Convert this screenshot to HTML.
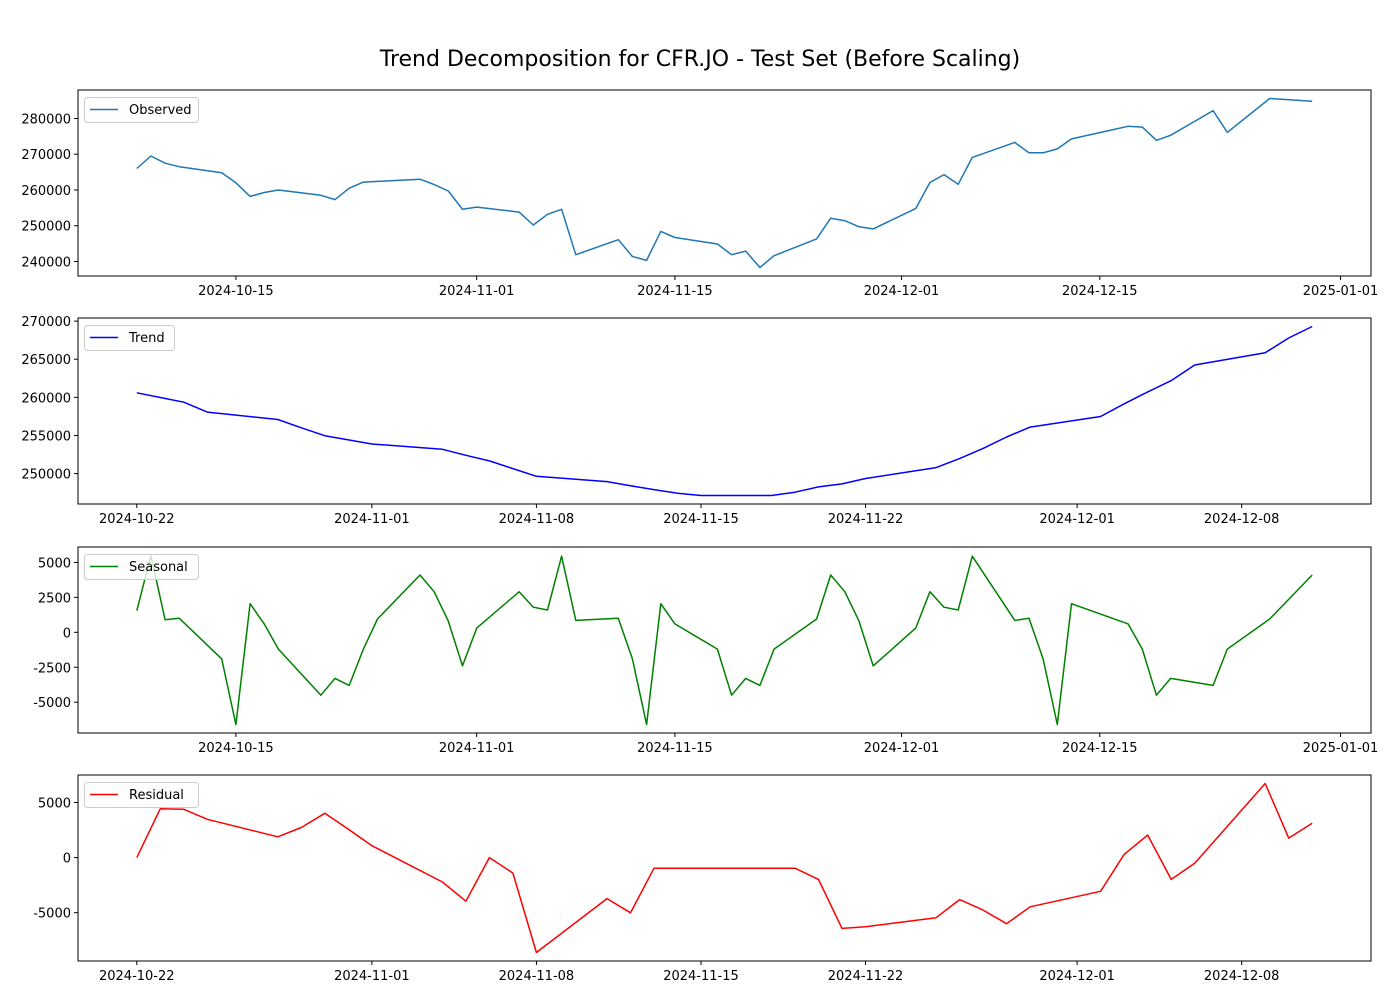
<!DOCTYPE html>
<html><head><meta charset="utf-8"><style>
body{margin:0;background:#fff}
svg text{font-family:"DejaVu Sans","Liberation Sans",sans-serif;fill:#000}
</style></head><body>
<svg id="chart" width="1400" height="1000" xmlns="http://www.w3.org/2000/svg">
<text x="700" y="66" font-size="22" text-anchor="middle">Trend Decomposition for CFR.JO - Test Set (Before Scaling)</text>
</svg>
<script>
const obsDates = ["2024-10-08","2024-10-09","2024-10-10","2024-10-11","2024-10-14","2024-10-15","2024-10-16","2024-10-17","2024-10-18","2024-10-21","2024-10-22","2024-10-23","2024-10-24","2024-10-25","2024-10-28","2024-10-29","2024-10-30","2024-10-31","2024-11-01","2024-11-04","2024-11-05","2024-11-06","2024-11-07","2024-11-08","2024-11-11","2024-11-12","2024-11-13","2024-11-14","2024-11-15","2024-11-18","2024-11-19","2024-11-20","2024-11-21","2024-11-22","2024-11-25","2024-11-26","2024-11-27","2024-11-28","2024-11-29","2024-12-02","2024-12-03","2024-12-04","2024-12-05","2024-12-06","2024-12-09","2024-12-10","2024-12-11","2024-12-12","2024-12-13","2024-12-17","2024-12-18","2024-12-19","2024-12-20","2024-12-23","2024-12-24","2024-12-27","2024-12-30"];
const observed = [266000,269500,267500,266500,264800,262000,258200,259300,260000,258500,257300,260500,262200,262400,263000,261500,259700,254600,255200,253800,250200,253200,254600,241900,246100,241400,240300,248400,246700,244900,241900,242900,238300,241600,246300,252100,251400,249700,249100,254800,262100,264300,261600,269100,273300,270400,270400,271500,274300,277800,277600,273900,275300,282200,276100,285600,284800];
const seasonal = [1550,5500,900,1000,-1900,-6600,2050,600,-1200,-4500,-3300,-3800,-1200,950,4100,2900,800,-2400,300,2900,1800,1600,5450,850,1000,-1900,-6600,2050,600,-1200,-4500,-3300,-3800,-1200,950,4100,2900,800,-2400,300,2900,1800,1600,5450,850,1000,-1900,-6600,2050,600,-1200,-4500,-3300,-3800,-1200,950,4100];
const trDates = obsDates.slice(10,47);
const trendVals = [260600,259980,259370,258060,257100,256000,254970,254420,253880,253180,252400,251660,250650,249650,248950,248400,247900,247420,247120,247120,247560,248260,248650,249350,250780,251960,253310,254800,256100,257490,259150,260720,262200,264250,265860,267780,269300];
const residVals = [0,4440,4380,3480,1890,2730,4020,2580,1080,-2220,-3960,0,-1410,-8620,-3720,-5010,-960,-960,-960,-960,-960,-1980,-6430,-6270,-5460,-3810,-4770,-6000,-4470,-3060,300,2040,-1980,-510,6730,1770,3120];
const xTicksA = ["2024-10-15","2024-11-01","2024-11-15","2024-12-01","2024-12-15","2025-01-01"];
const xTicksB = ["2024-10-22","2024-11-01","2024-11-08","2024-11-15","2024-11-22","2024-12-01","2024-12-08"];
const yTicks1 = [240000,250000,260000,270000,280000];
const yTicks2 = [250000,255000,260000,265000,270000];
const yTicks3 = [-5000,-2500,0,2500,5000];
const yTicks4 = [-5000,0,5000];

const NS="http://www.w3.org/2000/svg";
const svg=document.getElementById('chart');
function mk(tag,attrs,parent){const e=document.createElementNS(NS,tag);for(const k in attrs)e.setAttribute(k,attrs[k]);(parent||svg).appendChild(e);return e;}
const day=s=>Date.parse(s+"T00:00:00Z")/86400000;
const L=78,R=1371,H=186;
function panel(top,dates,vals,color,label,xt,yt,key){
  const g=mk('g',{});
  
  
  const ds=dates.map(day);
  const d0=Math.min(...ds),d1=Math.max(...ds),dm=(d1-d0)*0.05;
  const v0=Math.min(...vals),v1=Math.max(...vals),vm=(v1-v0)*0.05;
  const xs=d=>L+(d-(d0-dm))/((d1+dm)-(d0-dm))*(R-L);
  const ys=v=>top+H-(v-(v0-vm))/((v1+vm)-(v0-vm))*H;
  const pts=vals.map((v,i)=>xs(ds[i]).toFixed(1)+','+ys(v).toFixed(1)).join(' ');
  const line=mk('polyline',{points:pts,fill:'none',stroke:color,'stroke-width':1.5,'stroke-linejoin':'round'},g);
  
  
  const fr=mk('rect',{x:L,y:top,width:R-L,height:H,fill:'none',stroke:'#000','stroke-width':1},g);
  
  
  xt.forEach(t=>{const x=xs(day(t));
    mk('line',{x1:x,x2:x,y1:top+H,y2:top+H+4,stroke:'#000'},g);
    const tx=mk('text',{x:x,y:top+H+19,'font-size':13,'text-anchor':'middle'},g);tx.textContent=t;
    
    });
  yt.forEach(t=>{const y=ys(t);
    mk('line',{x1:L-4,x2:L,y1:y,y2:y,stroke:'#000'},g);
    const tx=mk('text',{x:L-7,y:y+5,'font-size':13,'text-anchor':'end'},g);tx.textContent=t;
    
    });
  const w=label.length*8+50;
  const lg=mk('g',{},g);
  
  
  mk('rect',{x:84.5,y:top+7.5,width:w,height:25,rx:3,fill:'#fff','fill-opacity':0.8,stroke:'#ccc'},lg);
  mk('line',{x1:90,x2:118,y1:top+19.5,y2:top+19.5,stroke:color,'stroke-width':1.5},lg);
  const lt=mk('text',{x:129,y:top+24,'font-size':13},lg);lt.textContent=label;
}
panel(90,obsDates,observed,'#1f77b4','Observed',xTicksA,yTicks1,'observed');
panel(318,trDates,trendVals,'#0000ff','Trend',xTicksB,yTicks2,'trend');
panel(547,obsDates,seasonal,'#008000','Seasonal',xTicksA,yTicks3,'seasonal');
panel(775,trDates,residVals,'#ff0000','Residual',xTicksB,yTicks4,'residual');
</script>
</body></html>
